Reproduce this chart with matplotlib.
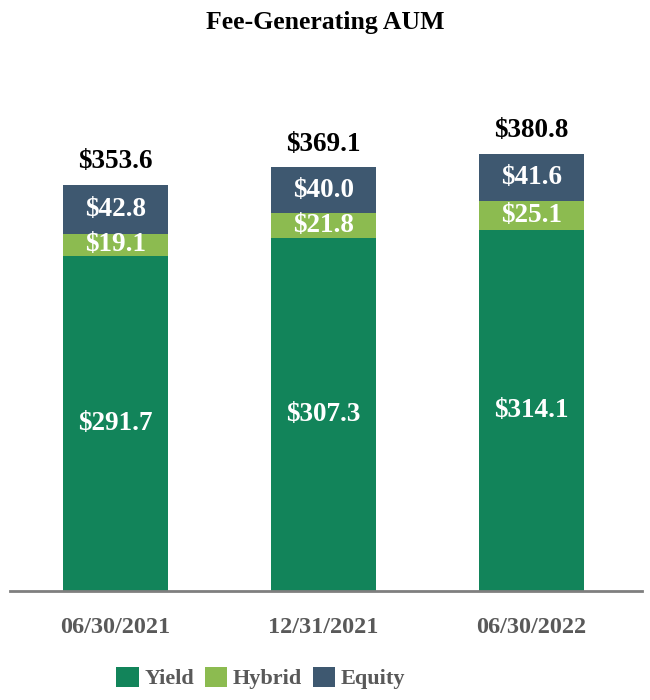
import matplotlib
matplotlib.use("Agg")
import matplotlib.pyplot as plt
from matplotlib.patches import Patch

dates = ["06/30/2021", "12/31/2021", "06/30/2022"]
yield_vals = [291.7, 307.3, 314.1]
hybrid_vals = [19.1, 21.8, 25.1]
equity_vals = [42.8, 40.0, 41.6]
totals = [353.6, 369.1, 380.8]
series_names = ["Yield", "Hybrid", "Equity"]
colors = ["#12845A", "#8CBB50", "#3E5870"]

plt.rcParams['font.family'] = ['Liberation Serif', 'DejaVu Serif']

fig = plt.figure(figsize=(6.5, 7.0), dpi=100)
ax = fig.add_axes([10/650, 109/700, 632/650, 531/700])

x = list(range(len(dates)))
w = 0.505
ax.bar(x, yield_vals, width=w, color=colors[0], label=series_names[0])
bottom2 = yield_vals
ax.bar(x, hybrid_vals, width=w, bottom=bottom2, color=colors[1], label=series_names[1])
bottom3 = [a + b for a, b in zip(yield_vals, hybrid_vals)]
ax.bar(x, equity_vals, width=w, bottom=bottom3, color=colors[2], label=series_names[2])

for i in x:
    ax.text(i, yield_vals[i] / 2, f"${yield_vals[i]:.1f}", ha='center', va='center',
            color='white', fontsize=19.5, fontweight='bold')
    ax.text(i, bottom2[i] + hybrid_vals[i] / 2, f"${hybrid_vals[i]:.1f}", ha='center', va='center',
            color='white', fontsize=19.5, fontweight='bold')
    ax.text(i, bottom3[i] + equity_vals[i] / 2, f"${equity_vals[i]:.1f}", ha='center', va='center',
            color='white', fontsize=19.5, fontweight='bold')
    ax.text(i, totals[i] + 20, f"${totals[i]:.1f}", ha='center', va='center',
            color='black', fontsize=19.5, fontweight='bold')

ax.set_xlim(-0.507, 2.531)
ax.set_ylim(0, 462.3)
for s in ['top', 'right', 'left']:
    ax.spines[s].set_visible(False)
ax.spines['bottom'].set_color('#7F7F7F')
ax.spines['bottom'].set_linewidth(2)
ax.set_yticks([])
ax.set_xticks(x)
ax.set_xticklabels(dates, fontsize=17.5, fontweight='bold', color='#595959')
ax.tick_params(axis='x', length=0, pad=19)

fig.text(0.5, 1 - 22/700, "Fee-Generating AUM", ha='center', va='center',
         fontsize=18.5, fontweight='bold', color='black')

handles = [Patch(facecolor=c, edgecolor='none') for c in colors]
leg = fig.legend(handles, series_names, loc='center', bbox_to_anchor=(261/650, 1 - 678/700),
                 ncol=3, frameon=False, handlelength=1.0, handleheight=1.05,
                 handletextpad=0.25, columnspacing=0.5,
                 prop={'family': 'Liberation Serif', 'weight': 'bold', 'size': 16})
for t in leg.get_texts():
    t.set_color('#595959')

fig.savefig("out.png", dpi=100)
